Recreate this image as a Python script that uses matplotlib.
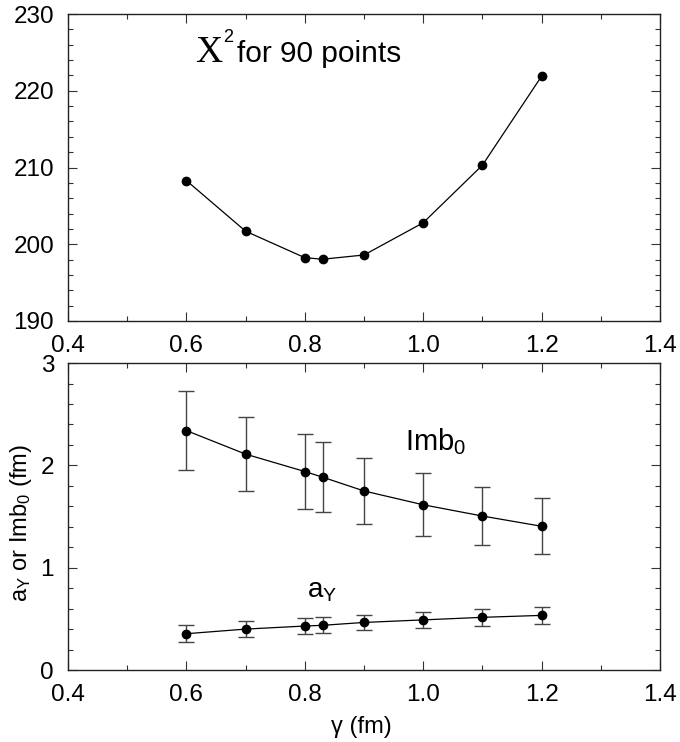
import matplotlib
matplotlib.use("Agg")
import matplotlib.pyplot as plt
from matplotlib.ticker import MultipleLocator, FormatStrFormatter

plt.rcParams['font.family'] = ['Liberation Sans', 'DejaVu Sans']
plt.rcParams['mathtext.fontset'] = 'custom'
plt.rcParams['mathtext.rm'] = 'Liberation Sans'
plt.rcParams['mathtext.it'] = 'Liberation Sans'

# gamma values (fm)
gamma = [0.6, 0.7, 0.8, 0.83, 0.9, 1.0, 1.1, 1.2]

# chi^2 for 90 points
chi2 = [208.3, 201.7, 198.25, 198.05, 198.6, 202.8, 210.3, 221.9]

# Imb0 and its errors
imb0 = [2.34, 2.11, 1.94, 1.885, 1.75, 1.615, 1.505, 1.405]
imb0_err = [0.385, 0.365, 0.37, 0.34, 0.32, 0.31, 0.285, 0.275]

# a_Y and its errors
a_y = [0.355, 0.40, 0.43, 0.437, 0.465, 0.49, 0.515, 0.534]
a_y_err = [0.082, 0.08, 0.078, 0.08, 0.077, 0.078, 0.08, 0.082]

fig = plt.figure(figsize=(6.8, 7.42), dpi=100)
ax1 = fig.add_axes([0.1, 0.5674, 0.8706, 0.4137])
ax2 = fig.add_axes([0.1, 0.0970, 0.8706, 0.4137])


def style_axis(ax):
    ax.set_xlim(0.4, 1.4)
    ax.xaxis.set_major_locator(MultipleLocator(0.2))
    ax.xaxis.set_minor_locator(MultipleLocator(0.1))
    ax.xaxis.set_major_formatter(FormatStrFormatter('%.1f'))
    ax.tick_params(which='both', direction='in', top=True, right=True,
                   labelsize=17.5, width=0.8, pad=10, color='#333333')
    ax.tick_params(which='major', length=6.5)
    ax.tick_params(which='minor', length=3.5)
    for s in ax.spines.values():
        s.set_linewidth(1.0)
        s.set_color('#222222')


# top panel: chi^2
ax1.plot(gamma, chi2, '-o', color='black', lw=0.9, ms=6)
style_axis(ax1)
ax1.set_ylim(190, 230)
ax1.yaxis.set_major_locator(MultipleLocator(10))
ax1.yaxis.set_minor_locator(MultipleLocator(2))
ax1.text(0.6145, 223.8, 'X', fontsize=27, family='Liberation Serif')
ax1.text(0.6615, 226.4, '2', fontsize=13)
ax1.text(0.6855, 223.8, 'for 90 points', fontsize=21.5)

# bottom panel: Imb0 and a_Y
ax2.errorbar(gamma, imb0, yerr=imb0_err, fmt='-o', color='black', lw=0.9, ms=6,
             ecolor='#444444', elinewidth=1.0, capsize=5.5, capthick=1.0)
ax2.errorbar(gamma, a_y, yerr=a_y_err, fmt='-o', color='black', lw=0.9, ms=6,
             ecolor='#444444', elinewidth=1.0, capsize=5.5, capthick=1.0)
style_axis(ax2)
ax2.set_ylim(0, 3)
ax2.yaxis.set_major_locator(MultipleLocator(1))
ax2.yaxis.set_minor_locator(MultipleLocator(0.2))
ax2.text(0.9693, 2.15, r'Imb$_0$', fontsize=21)
ax2.text(0.8037, 0.713, r'a$_\mathrm{Y}$', fontsize=20)
ax2.set_xlabel('γ (fm)', fontsize=17, va='top')
ax2.xaxis.set_label_coords(0.495, -0.15)
ax2.set_ylabel(r'a$_\mathrm{Y}$ or Imb$_0$ (fm)', fontsize=17)
ax2.yaxis.set_label_coords(-0.058, 0.48)

fig.savefig('out.png', dpi=100)
